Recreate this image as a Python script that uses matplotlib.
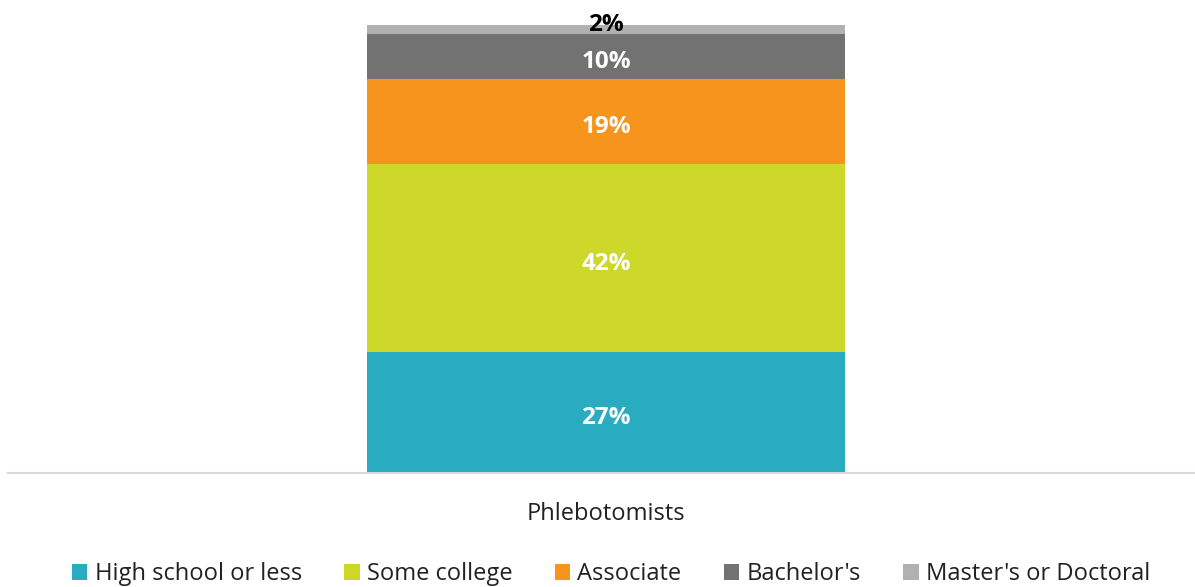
import matplotlib
matplotlib.use("Agg")
import matplotlib.pyplot as plt
from matplotlib.patches import Patch
from matplotlib import font_manager as fm


def font_file(name):
    for f in fm.fontManager.ttflist:
        if f.fname.endswith(name):
            return f.fname
    return None


reg_path = font_file("OpenSans-Regular.ttf")
bold_path = font_file("OpenSans-Bold.ttf")
REG = fm.FontProperties(fname=reg_path) if reg_path else fm.FontProperties(family="DejaVu Sans")
BOLD = fm.FontProperties(fname=bold_path) if bold_path else fm.FontProperties(family="DejaVu Sans", weight="bold")

categories = ["Phlebotomists"]
levels = ["High school or less", "Some college", "Associate", "Bachelor's", "Master's or Doctoral"]
shares = [27, 42, 19, 10, 2]
colors = ["#29ABC0", "#CDD82A", "#F7941E", "#717271", "#B0B1B0"]
label_colors = ["white", "white", "white", "white", "black"]

W, H = 1195, 587
fig = plt.figure(figsize=(W / 100, H / 100), dpi=100)
ax_left, ax_right = 8 / W, 1195 / W
ax_bottom = (H - 473) / H
ax = fig.add_axes([ax_left, ax_bottom, ax_right - ax_left, 1 - ax_bottom])

label_fp = BOLD.copy()
label_fp.set_size(17.5)
bar_width = 0.403
bottom = 0
for val, col, lab, lc in zip(shares, colors, levels, label_colors):
    ax.bar(0.004, val, width=bar_width, bottom=bottom, color=col, label=lab, zorder=2)
    if val >= 5:
        y = bottom + val / 2 - 1.3
    else:
        y = bottom + val - 0.1
    ax.text(0.004, y, f"{val}%", ha="center", va="center", color=lc,
            fontproperties=label_fp, zorder=3)
    bottom += val

ax.set_xlim(-0.5, 0.5)
ax.set_ylim(0, 473 / 4.48)
ax.set_xticks([0.004])
cat_fp = REG.copy()
cat_fp.set_size(17)
ax.set_xticklabels(categories, fontproperties=cat_fp, color="#222222")
ax.tick_params(axis="x", length=0, pad=21)
ax.set_yticks([])
for side in ["top", "right", "left"]:
    ax.spines[side].set_visible(False)
ax.spines["bottom"].set_color("#D9D9D9")
ax.spines["bottom"].set_linewidth(1.5)

leg_fp = REG.copy()
leg_fp.set_size(17)
handles = [Patch(facecolor=c, edgecolor="none") for c in colors]
fig.legend(handles, levels, loc="center", bbox_to_anchor=(611 / W, 1 - 574 / H),
           ncol=5, frameon=False, prop=leg_fp, handlelength=0.65, handleheight=0.65,
           handletextpad=0.3, columnspacing=1.8, labelcolor="#222222",
           borderaxespad=0, borderpad=0)

fig.savefig("out.png", dpi=100)
